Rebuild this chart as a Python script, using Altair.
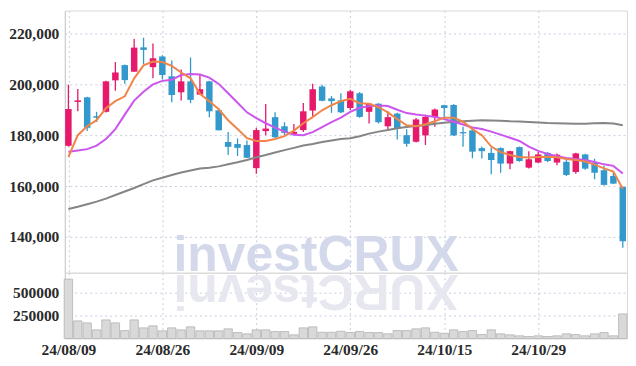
import altair as alt
import pandas as pd

dates = ["24/08/09", "24/08/12", "24/08/13", "24/08/14", "24/08/16", "24/08/19", "24/08/20", "24/08/21",
         "24/08/22", "24/08/23", "24/08/26", "24/08/27", "24/08/28", "24/08/29", "24/08/30", "24/09/02",
         "24/09/03", "24/09/04", "24/09/05", "24/09/06", "24/09/09", "24/09/10", "24/09/11", "24/09/12",
         "24/09/13", "24/09/19", "24/09/20", "24/09/23", "24/09/24", "24/09/25", "24/09/26", "24/09/27",
         "24/09/30", "24/10/02", "24/10/04", "24/10/07", "24/10/08", "24/10/10", "24/10/11", "24/10/14",
         "24/10/15", "24/10/16", "24/10/17", "24/10/18", "24/10/21", "24/10/22", "24/10/23", "24/10/24",
         "24/10/25", "24/10/28", "24/10/29", "24/10/30", "24/10/31", "24/11/01", "24/11/04", "24/11/05",
         "24/11/06", "24/11/07", "24/11/08", "24/11/11"]

opens = [175900, 193200, 195000, 187600, 189300, 201700, 207700, 205100, 214700, 206900,
         211100, 203300, 197000, 201300, 196100, 201300, 189900, 177400, 176600, 176200,
         167100, 181700, 187200, 183600, 180600, 182100, 189800, 199300, 194600, 193800,
         190800, 196600, 189300, 192500, 183600, 188600, 180100, 177500, 180000, 187300,
         191900, 192000, 181300, 182000, 175000, 173100, 175000, 168900, 175400, 167300,
         169300, 173100, 169300, 169600, 165600, 172500, 169300, 166300, 164000, 159700]
highs = [200000, 198300, 195200, 189300, 201500, 208900, 207900, 218000, 218500, 216200,
         211600, 209500, 206000, 210700, 203900, 201500, 190800, 181300, 178800, 178000,
         183000, 192400, 189100, 185200, 184500, 192800, 200400, 200000, 195500, 196600,
         198000, 197100, 192800, 192700, 189500, 188900, 182400, 186900, 188200, 190600,
         192100, 192300, 183400, 182200, 175600, 175100, 175300, 174000, 175600, 173800,
         173500, 173500, 172900, 170900, 173200, 172800, 170800, 168000, 165300, 159900]
lows = [175600, 189500, 181700, 185300, 189000, 197600, 200400, 205100, 208100, 202500,
        202000, 193100, 193800, 192700, 196000, 187200, 182000, 172300, 171900, 171100,
        164900, 180100, 179000, 179700, 180100, 181300, 187600, 193500, 188900, 188800,
        189900, 187000, 184700, 184700, 181700, 178400, 175500, 177200, 176200, 183400,
        186900, 179800, 175500, 171000, 170900, 164700, 165300, 166700, 169600, 167000,
        169000, 169500, 168200, 164000, 164900, 166500, 162700, 160300, 160800, 135700]
closes = [190400, 193800, 183000, 187000, 201300, 204800, 201800, 214600, 213700, 210400,
          203800, 195900, 201300, 194000, 198200, 189500, 182000, 175500, 175100, 171200,
          182100, 182700, 179300, 181000, 181400, 189500, 198200, 193700, 193500, 189100,
          197400, 187300, 192500, 185200, 187200, 182700, 176700, 186300, 187300, 190200,
          190800, 180000, 180800, 173600, 173800, 170300, 168900, 173800, 169900, 170600,
          172500, 169900, 172400, 164400, 172900, 166900, 165300, 160500, 161000, 138300]
volumes = [640600, 190000, 168500, 93300, 200600, 168500, 85800, 200600, 114800, 136300,
           82600, 114800, 93300, 125500, 82600, 82600, 82600, 104100, 64400, 50400,
           93300, 93300, 75100, 75100, 39700, 114800, 125500, 67600, 67600, 78300,
           64400, 75100, 64400, 64400, 50400, 85800, 85800, 104100, 114800, 67600,
           56900, 93300, 75100, 85800, 42900, 93300, 50400, 39700, 29000, 21500,
           29000, 21500, 29000, 50400, 42900, 29000, 50400, 64400, 29000, 265000]
ma_short = [171500, 180100, 183600, 186000, 190700, 193500, 195400, 202500, 207600, 209100,
            208900, 207400, 204800, 202500, 196400, 193500, 190300, 186000, 182500, 178900,
            177800, 177800, 178600, 179700, 181900, 184800, 187200, 189900, 191900, 193500,
            194400, 192700, 192500, 191100, 189100, 186400, 184000, 183600, 184400, 185600,
            187000, 187000, 185400, 182500, 180100, 175600, 173400, 172300, 171500, 171300,
            171500, 171600, 171400, 170700, 170300, 169700, 168500, 167000, 165800, 159000]
ma_mid = [173600, 174100, 174600, 176000, 178600, 182500, 188200, 193700, 197200, 200100,
          201500, 201900, 203800, 204200, 204000, 202800, 200300, 196600, 192900, 189100,
          186800, 184800, 183100, 181500, 180300, 180100, 181300, 183300, 185200, 187000,
          189300, 190900, 191500, 191800, 191600, 190100, 188800, 188200, 187800, 187300,
          186500, 185400, 184300, 183100, 182500, 181500, 180300, 179100, 177800, 175600,
          173900, 172700, 171800, 171100, 170700, 170300, 169500, 168600, 168000, 165000]
ma_long = [151000, 151900, 152900, 153900, 155100, 156500, 157900, 159300, 160800, 162300,
           163300, 164400, 165400, 166200, 167000, 167300, 167800, 168600, 169400, 170300,
           171400, 172300, 173300, 174200, 175100, 176000, 176600, 177400, 178000, 178600,
           178900, 179700, 180700, 181500, 182100, 182800, 183300, 183700, 184000, 184600,
           185000, 185400, 185600, 185800, 186000, 185900, 185800, 185600, 185500, 185300,
           185100, 184900, 184800, 184700, 184600, 184600, 184800, 184900, 184700, 184000]
price_ticks = [140000, 160000, 180000, 200000, 220000]
volume_ticks = [250000, 500000]
watermark = "investCRUX"

UP, DOWN = "#E6196B", "#3399CC"
FONT = "Liberation Sans Narrow"
LBL = dict(labelFont=FONT, labelFontSize=15.5, labelFontWeight="bold", labelColor="#2a2a2a",
           labelFlush=False)
df = pd.DataFrame({"date": dates, "open": opens, "high": highs, "low": lows, "close": closes,
                   "volume": volumes, "ma_s": ma_short, "ma_m": ma_mid, "ma_l": ma_long})
df["idx"] = list(range(len(dates)))
df["dir"] = ["up" if c >= o else "down" for o, c in zip(opens, closes)]

W = 564
XDOM = [-0.38, 59.45]
xticks = list(range(0, len(dates), 10))
label_expr = "[" + ",".join("'%s'" % d for d in dates) + "][datum.value]"
grid = dict(gridColor="#c9cce0", gridDash=[2, 3], gridWidth=1)
xscale = alt.Scale(domain=XDOM, nice=False, zero=False, padding=0)
color = alt.Color("dir:N", scale=alt.Scale(domain=["up", "down"], range=[UP, DOWN]), legend=None)

xaxis_top = alt.Axis(values=xticks, labels=False, ticks=False, domain=False, title=None, grid=True,
                     minExtent=0, maxExtent=0, labelPadding=0, **grid)
pscale = alt.Scale(domain=[125900, 229200], nice=False, zero=False)
yaxis = alt.Axis(values=price_ticks, labelExpr="format(datum.value, ',')", title=None, ticks=False,
                 labelPadding=6, minExtent=55, maxExtent=55, domainColor="#cccccc", grid=True,
                 **LBL, **grid)

def X():
    return alt.X("idx:Q", scale=xscale, axis=xaxis_top)

def Y(col):
    return alt.Y(col + ":Q", scale=pscale, axis=yaxis)

base = alt.Chart(df)
wick = base.mark_rule(strokeWidth=1.3).encode(x=X(), y=Y("low"), y2="high:Q", color=color)
body = base.mark_bar(size=6.5).encode(x=X(), y=Y("open"), y2="close:Q", color=color)
def ma(col, c):
    return base.mark_line(strokeWidth=2, color=c).encode(x=X(), y=Y(col))
wm = alt.Chart(pd.DataFrame({"t": [watermark]})).mark_text(
    font="Liberation Sans", fontWeight="bold", fontSize=50, color="#d3d8ea", align="center",
    baseline="alphabetic").encode(x=alt.value(252), y=alt.value(261), text="t:N")
price = alt.layer(wick, wm, body, ma("ma_l", "#858585"), ma("ma_m", "#CC55EE"), ma("ma_s", "#F0854A")
                  ).properties(width=W, height=263)

vol = base.mark_bar(size=8.4, fill="#d9d9d9", stroke="#b4b4b4", strokeWidth=0.8).encode(
    x=alt.X("idx:Q", scale=xscale,
            axis=alt.Axis(values=xticks, labelExpr=label_expr, ticks=False, domain=False, title=None,
                          labelPadding=4, grid=True, **LBL, **grid)),
    y=alt.Y("volume:Q", scale=alt.Scale(domain=[0, 710000], nice=False),
            axis=alt.Axis(values=volume_ticks, labelExpr="format(datum.value, 'd')", title=None,
                          ticks=False, labelPadding=6, minExtent=55, maxExtent=55,
                          domainColor="#cccccc", grid=True, **LBL, **grid)))
refl = alt.Chart(pd.DataFrame({"t": [watermark[::-1]]})).mark_text(
    font="Liberation Sans", fontWeight="bold", fontSize=50, color="#e6e7ef", align="center",
    baseline="alphabetic", angle=180, clip=True).encode(x=alt.value(252), y=alt.value(2), text="t:N")
volume = alt.layer(vol, refl).properties(width=W, height=66)

chart = alt.vconcat(price, volume, spacing=0, bounds="flush").properties(
    padding={"top": 1, "left": 0, "right": 0, "bottom": 0}
).configure_view(stroke="#d9d9d9")

chart.save("out.html", embed_options={"renderer": "svg", "actions": False})
